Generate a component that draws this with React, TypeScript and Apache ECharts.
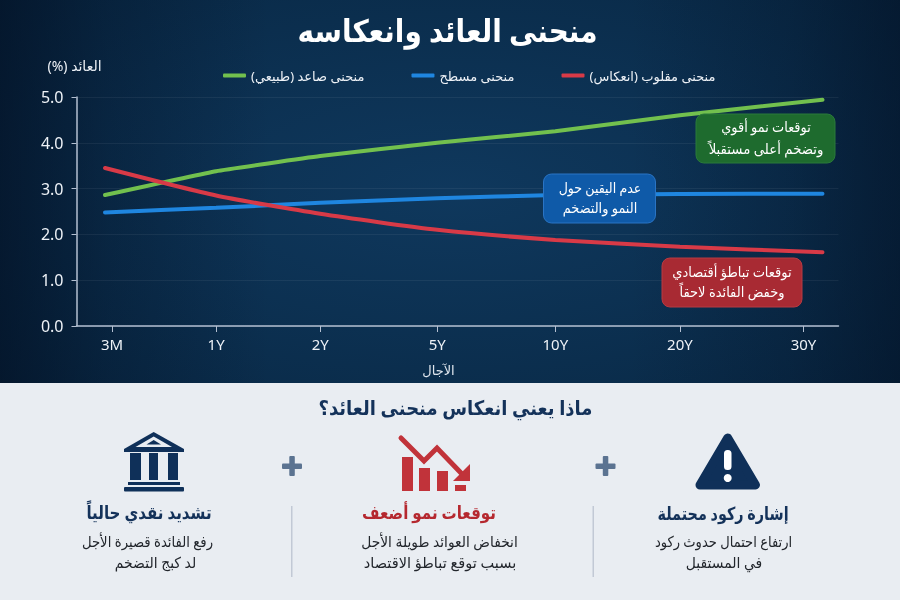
import React, { useEffect, useRef } from "react";
import * as echarts from "echarts";

const RLM = "\u200F";
const tenors = ["3M", "1Y", "2Y", "5Y", "10Y", "20Y", "30Y"];
const tenorTicks = [35.5, 139.5, 243.5, 360.5, 478.5, 603, 726.5];
const pointX = [28.5, 139.5, 243.5, 360.5, 478.5, 603, 745.5];
const normalCurve = [2.86, 3.38, 3.71, 4.0, 4.25, 4.6, 4.94];
const flatCurve = [2.48, 2.58, 2.69, 2.79, 2.86, 2.88, 2.89];
const invertedCurve = [3.45, 2.85, 2.45, 2.1, 1.88, 1.73, 1.61];
const seriesNames = ["منحنى صاعد (طبيعي)" + RLM, "منحنى مسطح", "منحنى مقلوب (انعكاس)" + RLM];
const seriesColors = ["#72c04e", "#1f86e0", "#d83a47"];

const FONT = '"Noto Sans", "DejaVu Sans", sans-serif';
const NAVY = "#0f3059";

function label(x: number, y: number, text: string, size: number, fill: string, weight = "normal", scaleX = 1, z = 11) {
  return {
    type: "text", x, y, z, scaleX, silent: true,
    style: { text, fill, font: `${weight} ${size}px ${FONT}`, textAlign: "center", textVerticalAlign: "middle" },
  };
}
function box(x: number, y: number, width: number, height: number, fill: string, stroke: string) {
  return { type: "rect", z: 10, silent: true, shape: { x, y, width, height, r: 8 }, style: { fill, stroke, lineWidth: 1 } };
}
function solid(x: number, y: number, width: number, height: number, fill: any, z = 5, r = 0) {
  return { type: "rect", z, silent: true, shape: { x, y, width, height, r }, style: { fill } };
}
function poly(points: number[][], fill: string, z = 5) {
  return { type: "polygon", z, silent: true, shape: { points }, style: { fill } };
}
function plus(cx: number, cy: number) {
  return [solid(cx - 10, cy - 2.5, 20, 5.5, "#5b7391", 5, 1), solid(cx - 2.7, cy - 10, 5.5, 20, "#5b7391", 5, 1)];
}

export default function App() {
  const ref = useRef<HTMLDivElement>(null);
  useEffect(() => {
    const chart = echarts.init(ref.current!, undefined, { renderer: "svg" });
    const curves = [normalCurve, flatCurve, invertedCurve];
    const panelBg = new echarts.graphic.RadialGradient(0.5, 0.5, 0.8, [
      { offset: 0, color: "#0f385d" },
      { offset: 1, color: "#082743" },
    ]);
    const panelSides = new echarts.graphic.LinearGradient(0, 0, 1, 0, [
      { offset: 0, color: "rgba(2,14,32,0.65)" },
      { offset: 0.12, color: "rgba(2,14,32,0.3)" },
      { offset: 0.3, color: "rgba(2,14,32,0)" },
      { offset: 0.7, color: "rgba(2,14,32,0)" },
      { offset: 0.88, color: "rgba(2,14,32,0.25)" },
      { offset: 1, color: "rgba(2,14,32,0.55)" },
    ]);
    const graphic: any[] = [
      solid(0, 0, 900, 383, panelBg, -10),
      solid(0, 0, 900, 383, panelSides, -9),
      solid(0, 383, 900, 217, "#e9edf2", -10),
      label(447.5, 30, "منحنى العائد وانعكاسه", 31, "#ffffff", "bold", 0.9),
      label(74.5, 65, "العائد (%)" + RLM, 14, "#eef2f7"),
      label(438.5, 370, "الآجال", 13, "#dfe6ee"),
      // callouts
      box(696, 114, 139, 49, "#1e6b2e", "#2a7a3a"),
      label(766, 127, "توقعات نمو أقوي", 14, "#ffffff", "normal", 0.92),
      label(766, 148, "وتضخم أعلى مستقبلاً", 14, "#ffffff", "normal", 0.95),
      box(543.5, 174, 112, 49, "#0f5aa8", "#2a74c4"),
      label(600, 188, "عدم اليقين حول", 14, "#ffffff", "normal", 0.9),
      label(600, 208, "النمو والتضخم", 14, "#ffffff", "normal", 0.92),
      box(662, 258, 140, 49, "#a82a33", "#b83a42"),
      label(732, 272, "توقعات تباطؤ أقتصادي", 14, "#ffffff", "normal", 0.93),
      label(732, 292, "وخفض الفائدة لاحقاً", 14, "#ffffff", "normal", 0.93),
      // lower panel
      label(455.5, 408, "ماذا يعني انعكاس منحنى العائد؟", 20, "#14325a", "bold", 0.9),
      // bank icon
      poly([[153.7, 432], [184, 449], [184, 452], [124, 452], [124, 449]], NAVY),
      poly([[153.7, 436.5], [172, 447], [135.5, 447]], "#e9edf2", 6),
      poly([[153.7, 440], [161, 444.5], [146.5, 444.5]], NAVY, 7),
      solid(130, 453, 11, 27, NAVY),
      solid(149, 453, 9, 27, NAVY),
      solid(168, 453, 10, 27, NAVY),
      solid(128, 482, 52, 3, NAVY),
      solid(124, 487, 60, 4.5, NAVY, 5, 1),
      ...plus(292, 466),
      ...plus(605.5, 466),
      // falling chart icon
      solid(402, 457, 11, 34, "#c1333a"),
      solid(419, 468, 11, 23, "#c1333a"),
      solid(437, 471, 11, 20, "#c1333a"),
      solid(455, 485, 11, 6, "#c1333a"),
      {
        type: "polyline", z: 6, silent: true,
        shape: { points: [[401, 438], [424, 461], [437, 448], [462, 474]] },
        style: { stroke: "#c1333a", lineWidth: 5, fill: "none", lineCap: "round", lineJoin: "miter" },
      },
      poly([[470, 464], [470, 481], [453, 481]], "#c1333a", 6),
      // warning icon
      {
        type: "polygon", z: 5, silent: true,
        shape: { points: [[727.7, 438], [755.5, 485], [700, 485]] },
        style: { fill: NAVY, stroke: NAVY, lineWidth: 9, lineJoin: "round" },
      },
      solid(724, 450, 7.5, 20, "#ffffff", 6, 3.5),
      { type: "circle", z: 6, silent: true, shape: { cx: 727.7, cy: 478, r: 4 }, style: { fill: "#ffffff" } },
      // dividers
      solid(291, 506, 1.5, 71, "#c2c9d5"),
      solid(592.5, 506, 1.5, 71, "#c2c9d5"),
      // captions
      label(149, 512, "تشديد نقدي حالياً", 18, "#14325a", "bold", 0.84),
      label(147.5, 541, "رفع الفائدة قصيرة الأجل", 15, "#22262c", "normal", 0.88),
      label(155.5, 562, "لد كبج التضخم", 15, "#22262c", "normal", 0.93),
      label(429, 512, "توقعات نمو أضعف", 18, "#b5282f", "bold", 0.84),
      label(439.5, 541, "انخفاض العوائد طويلة الأجل", 15, "#22262c", "normal", 0.92),
      label(440, 562, "بسبب توقع تباطؤ الاقتصاد", 15, "#22262c", "normal", 0.97),
      label(723, 513, "إشارة ركود محتملة", 18, "#14325a", "bold", 0.8),
      label(723.5, 541, "ارتفاع احتمال حدوث ركود", 15, "#22262c", "normal", 0.87),
      label(724, 562, "في المستقبل", 15, "#22262c", "normal", 0.93),
    ];
    chart.setOption({
      animation: false,
      textStyle: { fontFamily: FONT },
      graphic,
      legend: {
        left: 218, top: 64, itemWidth: 23, itemHeight: 4, itemGap: 47,
        icon: "roundRect",
        textStyle: { color: "#eef2f7", fontSize: 13, fontFamily: FONT },
        data: seriesNames,
      },
      grid: { left: 76.5, right: 61.5, top: 97, bottom: 274, containLabel: false },
      xAxis: {
        type: "value", min: 0, max: 761.5,
        splitLine: { show: false },
        axisLine: { show: true, lineStyle: { color: "#b4c0d2", width: 1.5 } },
        axisTick: { show: true, length: 6, customValues: tenorTicks, lineStyle: { color: "#b4c0d2" } },
        axisLabel: {
          color: "#eef2f7", fontSize: 15, margin: 10, customValues: tenorTicks,
          formatter: (v: number) => tenors[tenorTicks.indexOf(v)] ?? "",
        },
      },
      yAxis: {
        type: "value", min: 0, max: 5, interval: 1,
        axisLine: { show: true, lineStyle: { color: "#b4c0d2", width: 1.5 } },
        axisTick: { show: true, length: 5, lineStyle: { color: "#b4c0d2" } },
        axisLabel: { color: "#eef2f7", fontSize: 16, margin: 13, formatter: (v: number) => v.toFixed(1) },
        splitLine: { show: true, lineStyle: { color: "rgba(255,255,255,0.06)", width: 1 } },
      },
      series: seriesNames.map((name, i) => ({
        name, type: "line", showSymbol: false, symbol: "none", smooth: i === 2 ? 0.2 : 0.1,
        z: i === 2 ? 4 : 3,
        clip: false,
        itemStyle: { color: seriesColors[i] },
        lineStyle: { color: seriesColors[i], width: 4, cap: "round" },
        data: curves[i].map((v, j) => [pointX[j], v]),
      })),
    });
    return () => chart.dispose();
  }, []);
  return <div ref={ref} style={{ position: "fixed", left: 0, top: 0, width: 900, height: 600 }} />;
}
